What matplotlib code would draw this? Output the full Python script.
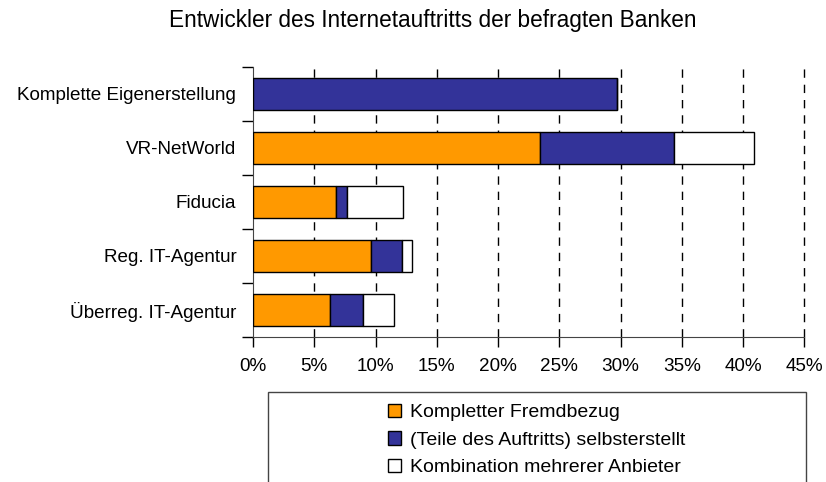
import numpy as np
import matplotlib
matplotlib.use("Agg")
import matplotlib.pyplot as plt
from matplotlib.patches import Rectangle, Patch

plt.rcParams['font.family'] = ['Liberation Sans', 'DejaVu Sans']

# Daten (Anteile in %)
kategorien = ["Komplette Eigenerstellung", "VR-NetWorld", "Fiducia",
              "Reg. IT-Agentur", "Überreg. IT-Agentur"]
fremdbezug = [0.0, 23.4, 6.8, 9.6, 6.25]
selbst = [29.7, 11.0, 0.9, 2.6, 2.7]
kombination = [0.0, 6.5, 4.55, 0.8, 2.6]
serien = ["Kompletter Fremdbezug", "(Teile des Auftritts) selbsterstellt",
          "Kombination mehrerer Anbieter"]
farben = ["#FF9900", "#333399", "#FFFFFF"]
xticks = [0, 5, 10, 15, 20, 25, 30, 35, 40, 45]

fig = plt.figure(figsize=(8.26, 4.82), dpi=100)
ax = fig.add_axes([0.3063, 0.3015, 0.6674, 0.5601])

y = np.arange(len(kategorien))
links = np.zeros(len(kategorien))
for werte, farbe in zip([fremdbezug, selbst, kombination], farben):
    ax.barh(y, werte, left=links, height=0.59, color=farbe,
            edgecolor="black", linewidth=1.0, zorder=3)
    links = links + np.array(werte)

ax.set_xlim(0, 45)
ax.set_ylim(len(kategorien) - 0.5, -0.5)
ax.set_xticks(xticks)
ax.set_xticklabels([f"{t}%" for t in xticks], fontsize=13.6)
ax.tick_params(axis="x", direction="out", length=7, width=1, pad=8)

# Kategorie-Striche zwischen den Balken, Beschriftung in der Mitte
ax.set_yticks(np.arange(-0.5, len(kategorien), 1.0))
ax.set_yticklabels([])
ax.set_yticks(y, minor=True)
ax.set_yticklabels(kategorien, minor=True, fontsize=13.6)
ax.tick_params(axis="y", which="major", direction="out", length=8, width=1)
ax.tick_params(axis="y", which="minor", length=0, pad=12)

for t in xticks[1:]:
    ax.axvline(t, color="black", linestyle=(0, (6, 5)), linewidth=1,
               zorder=1, clip_on=False)

for s in ["top", "right"]:
    ax.spines[s].set_visible(False)
ax.spines["left"].set_color("#444444")
ax.spines["bottom"].set_color("#444444")

fig.text(433 / 826, 1 - 27 / 482, "Entwickler des Internetauftritts der befragten Banken",
         ha="center", va="baseline", fontsize=16.3)

# Legendenrahmen (unten abgeschnitten)
rahmen = Rectangle((268 / 826, -0.05), (806 - 268) / 826, (482 - 392) / 482 + 0.05,
                   transform=fig.transFigure, fill=False, edgecolor="#444444",
                   linewidth=1, clip_on=False)
fig.patches.append(rahmen)

handles = [Patch(facecolor=f, edgecolor="black", linewidth=1) for f in farben]
fig.legend(handles, serien, loc="center", bbox_to_anchor=(537 / 826, 1 - 440 / 482),
           frameon=False, fontsize=14, handlelength=0.67, handleheight=0.67,
           handletextpad=0.45, labelspacing=0.52, borderpad=0)

fig.savefig("out.png", dpi=100)
